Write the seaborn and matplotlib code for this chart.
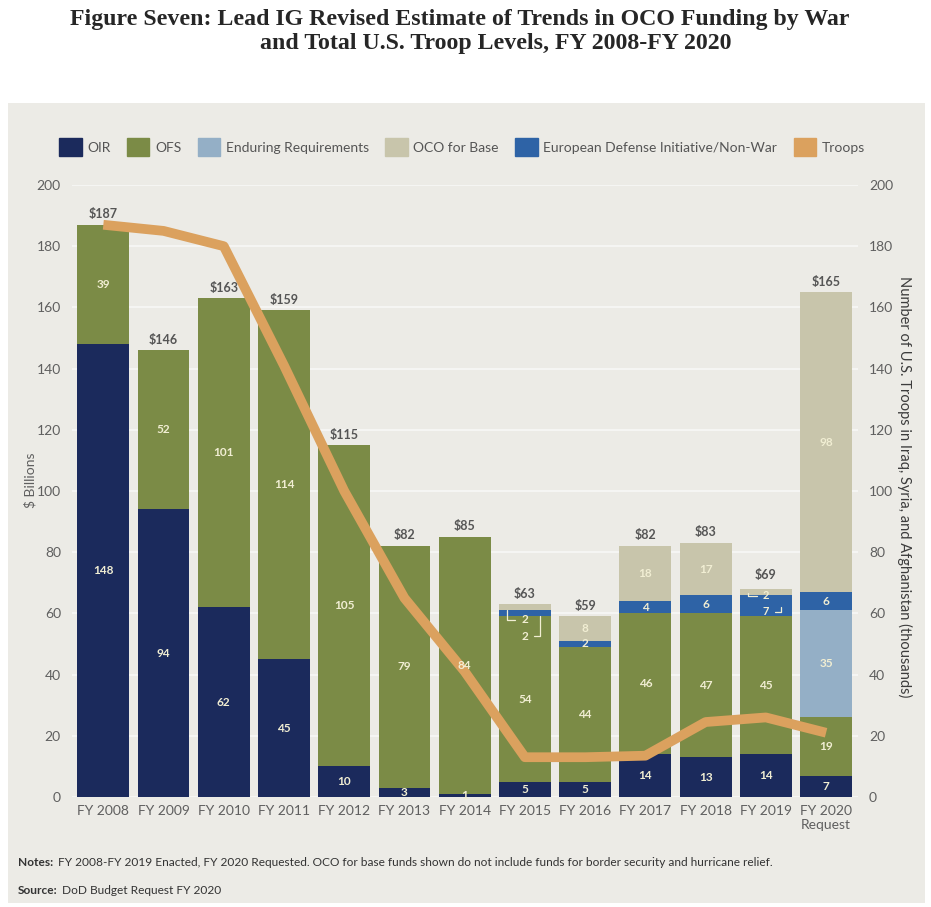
import matplotlib
matplotlib.use("Agg")
import matplotlib.pyplot as plt
import matplotlib.patches as mpatches
import numpy as np
import seaborn as sns

# data ($ billions / thousands of troops)
years = ["FY 2008", "FY 2009", "FY 2010", "FY 2011", "FY 2012", "FY 2013", "FY 2014",
         "FY 2015", "FY 2016", "FY 2017", "FY 2018", "FY 2019", "FY 2020\nRequest"]
oir = [148, 94, 62, 45, 10, 3, 1, 5, 5, 14, 13, 14, 7]
ofs = [39, 52, 101, 114, 105, 79, 84, 54, 44, 46, 47, 45, 19]
enduring = [0, 0, 0, 0, 0, 0, 0, 0, 0, 0, 0, 0, 35]
edi = [0, 0, 0, 0, 0, 0, 0, 2, 2, 4, 6, 7, 6]
oco_base = [0, 0, 0, 0, 0, 0, 0, 2, 8, 18, 17, 2, 98]
totals = [187, 146, 163, 159, 115, 82, 85, 63, 59, 82, 83, 69, 165]
troops = [187, 185, 180, 141, 100, 65, 41, 13, 13, 13.5, 24.5, 26, 21]

series_names = ["OIR", "OFS", "Enduring Requirements", "OCO for Base",
                "European Defense Initiative/Non-War", "Troops"]

# colours
c_oir = "#1b2a5c"
c_ofs = "#7b8b46"
c_end = "#94afc6"
c_base = "#c8c5ab"
c_edi = "#2e63a6"
c_troops = "#dba15e"
panel = "#ecebe6"
grey_txt = "#5f5f5f"
cream = "#f1eed3"

sns.set_style("white")
plt.rcParams["font.family"] = ["Lato", "DejaVu Sans"]

fig = plt.figure(figsize=(9.31, 9.07), dpi=100)

# grey panel behind the chart
bg = fig.add_axes([8 / 931, 1 - 903 / 907, 917 / 931, 800 / 907], zorder=-5)
bg.set_facecolor(panel)
bg.set_xticks([])
bg.set_yticks([])
for s in bg.spines.values():
    s.set_visible(False)

# title
fig.text(460 / 931, 1 - 20 / 907,
         "Figure Seven: Lead IG Revised Estimate of Trends in OCO Funding by War",
         ha="center", va="center", fontsize=17.2, fontweight="bold",
         family="Liberation Serif")
fig.text(496 / 931, 1 - 44 / 907, "and Total U.S. Troop Levels, FY 2008-FY 2020",
         ha="center", va="center", fontsize=17.2, fontweight="bold",
         family="Liberation Serif")

ax = fig.add_axes([72 / 931, 1 - 797 / 907, 786 / 931, 612 / 907])
ax.set_facecolor(panel)

# stacked bars, one seaborn call per layer
layers = [(oir, c_oir), (ofs, c_ofs), (enduring, c_end), (edi, c_edi), (oco_base, c_base)]
bottom = np.zeros(len(years))
for vals, col in layers:
    sns.barplot(x=years, y=vals, color=col, width=0.86, saturation=1, errorbar=None,
                bottom=bottom, linewidth=0, ax=ax, zorder=2)
    bottom = bottom + np.array(vals)

ax.set_ylim(0, 200)
ax.set_xlim(-0.52, 12.53)
ax.set_yticks(range(0, 201, 20))
ax.yaxis.grid(True, color="#f8f8f6", lw=1.2, zorder=0)
ax.set_axisbelow(True)
for s in ax.spines.values():
    s.set_visible(False)
ax.tick_params(axis="both", length=0, labelsize=10, colors=grey_txt)
ax.tick_params(axis="y", pad=8)
ax.tick_params(axis="x", pad=6)
ax.set_xlabel("")
ax.set_ylabel("")

# troops line on the right axis
ax2 = ax.twinx()
sns.lineplot(x=np.arange(len(years)), y=troops, ax=ax2, color=c_troops, lw=7,
             solid_capstyle="butt", solid_joinstyle="round", zorder=5)
ax2.set_ylim(0, 200)
ax2.set_yticks(range(0, 201, 20))
ax2.tick_params(axis="y", length=0, labelsize=10, colors=grey_txt, pad=8)
for s in ax2.spines.values():
    s.set_visible(False)
ax2.grid(False)
ax.set_xlim(-0.52, 12.53)

# segment labels (drawn on the twin axis so they sit above the line; same 0-200 scale)
for i in range(len(years)):
    base = 0
    for j, (vals, col) in enumerate(layers):
        v = vals[i]
        if v > 0:
            small = (i == 7 and j >= 3) or (i == 11 and j >= 3)
            if not small:
                ax2.text(i, base + v / 2, str(v), ha="center", va="center",
                         fontsize=8.5, fontweight="bold", color=cream, zorder=6)
        base += v
    ax2.text(i, totals[i] + 1.5, "$" + str(totals[i]), ha="center", va="bottom",
             fontsize=9, fontweight="bold", color="#555555", zorder=6)

# bracketed labels on the thin FY2015 / FY2019 slices
arrow = dict(arrowstyle="-", color=cream, lw=0.9,
             connectionstyle="angle,angleA=0,angleB=90,rad=0")
ax2.annotate(str(oco_base[7]), xy=(7 - 0.3, oir[7] + ofs[7] + edi[7] + 1),
             xytext=(7, 58), ha="center", va="center", fontsize=8.5,
             fontweight="bold", color=cream, arrowprops=arrow, zorder=6)
ax2.annotate(str(edi[7]), xy=(7 + 0.25, oir[7] + ofs[7] + 1), xytext=(7, 52.5),
             ha="center", va="center", fontsize=8.5, fontweight="bold", color=cream,
             arrowprops=arrow, zorder=6)
ax2.annotate(str(oco_base[11]), xy=(11 - 0.3, 67.5), xytext=(11, 65.8),
             ha="center", va="center", fontsize=8, fontweight="bold", color=cream,
             arrowprops=arrow, zorder=6)
ax2.annotate(str(edi[11]), xy=(11 + 0.25, 63), xytext=(11, 60.5),
             ha="center", va="center", fontsize=8, fontweight="bold", color=cream,
             arrowprops=arrow, zorder=6)

fig.text(30 / 931, 1 - 480 / 907, "$ Billions", rotation=90, ha="center", va="center",
         fontsize=10, color=grey_txt)
fig.text(905 / 931, 1 - 487 / 907,
         "Number of U.S. Troops in Iraq, Syria, and Afghanistan (thousands)",
         rotation=270, ha="center", va="center", fontsize=10.5, color="#3c3c3c")

# legend across the top
handles = [mpatches.Patch(color=c) for c in [c_oir, c_ofs, c_end, c_base, c_edi, c_troops]]
fig.legend(handles, series_names, loc="center", bbox_to_anchor=(462 / 931, 1 - 147 / 907),
           ncol=6, frameon=False, fontsize=10, handlelength=1.6, handleheight=1.6,
           handletextpad=0.4, columnspacing=1.2, labelcolor="#555555")

# notes and source
fig.text(18 / 931, 1 - 862 / 907, "Notes:", fontsize=8.6, fontweight="bold",
         color="#333333", va="center")
fig.text(58 / 931, 1 - 862 / 907,
         "FY 2008-FY 2019 Enacted, FY 2020 Requested. OCO for base funds shown do not "
         "include funds for border security and hurricane relief.",
         va="center", fontsize=8.6, color="#333333")
fig.text(18 / 931, 1 - 890 / 907, "Source:", fontsize=8.6, fontweight="bold",
         color="#333333", va="center")
fig.text(62 / 931, 1 - 890 / 907, "DoD Budget Request FY 2020", va="center",
         fontsize=8.6, color="#333333")

fig.savefig("out.png", dpi=100, facecolor="white")
